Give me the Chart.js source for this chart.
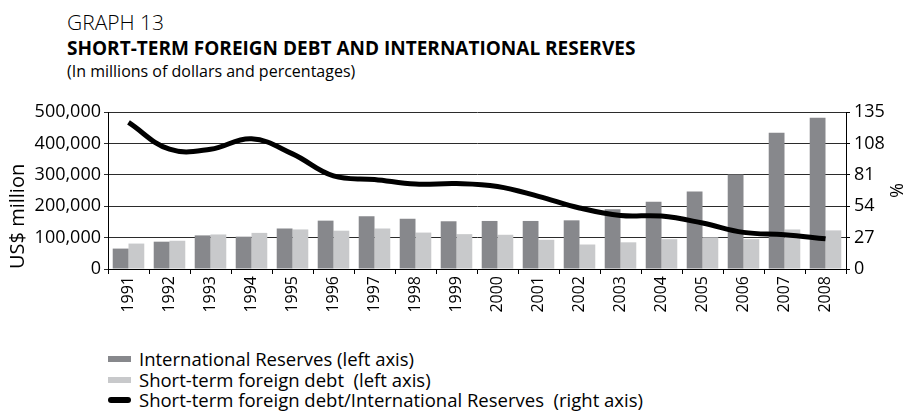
<!DOCTYPE html>
<html>
<head>
<meta charset="utf-8">
<script src="https://cdn.jsdelivr.net/npm/chart.js@4"></script>
<style>
  html, body { margin: 0; padding: 0; background: #fff; }
  body { width: 914px; height: 412px; position: relative; overflow: hidden; font-family: "Open Sans", sans-serif; color: #000; }
  .heading { position: absolute; left: 67px; white-space: nowrap; line-height: 1.2; }
  #graph-no { top: 10px; font-size: 21px; font-weight: 300; }
  #graph-title { top: 37px; font-size: 19px; font-weight: 700; }
  #graph-sub { top: 62px; font-size: 16px; }
  #chart-box { position: absolute; left: 0; top: 96px; width: 914px; height: 234px; }
  #legend { position: absolute; left: 108px; top: 349px; font-size: 18.5px; line-height: 20.5px; }
  #legend div { display: flex; align-items: center; white-space: nowrap; }
  #legend span.sw { display: inline-block; width: 23px; margin-right: 8px; }
</style>
</head>
<body>
<div class="heading" id="graph-no">GRAPH 13</div>
<div class="heading" id="graph-title">SHORT-TERM FOREIGN DEBT AND INTERNATIONAL RESERVES</div>
<div class="heading" id="graph-sub">(In millions of dollars and percentages)</div>
<div id="chart-box"><canvas id="debt-chart"></canvas></div>
<div id="legend"></div>
<script>
// Data
const years = ['1991', '1992', '1993', '1994', '1995', '1996', '1997', '1998', '1999',
               '2000', '2001', '2002', '2003', '2004', '2005', '2006', '2007', '2008'];
const reserves = [65000, 87000, 107000, 103000, 129000, 154000, 168000, 160000, 152000,
                  153000, 153000, 155000, 190000, 214000, 247000, 301000, 434000, 482000];
const shortDebt = [81000, 90000, 110000, 115000, 126000, 122000, 129000, 116000, 111000,
                   109000, 93000, 78000, 85000, 95000, 101000, 95000, 126000, 123000];
const debtRatio = [126, 103, 103, 112, 99, 80, 77, 73, 73.5,
                   71, 62.5, 52.5, 46, 45.5, 39.5, 31.5, 29.5, 26];
const pctTicks = [0, 27, 54, 81, 108, 135];

const fontFamily = '"Open Sans", sans-serif';
const darkGrey = '#87888c';
const lightGrey = '#c8c9cb';

const ctx = document.getElementById('debt-chart').getContext('2d');

new Chart(ctx, {
    type: 'bar',
    data: {
        labels: years,
        datasets: [{
            label: 'International Reserves (left axis)',
            data: reserves,
            backgroundColor: darkGrey,
            yAxisID: 'y',
            order: 2,
            categoryPercentage: 0.77,
            barPercentage: 1
        }, {
            label: 'Short-term foreign debt  (left axis)',
            data: shortDebt,
            backgroundColor: lightGrey,
            yAxisID: 'y',
            order: 2,
            categoryPercentage: 0.77,
            barPercentage: 1
        }, {
            type: 'line',
            label: 'Short-term foreign debt/International Reserves  (right axis)',
            data: debtRatio,
            borderColor: '#000',
            borderWidth: 5,
            pointRadius: 0,
            tension: 0.4,
            yAxisID: 'y1',
            order: 1
        }]
    },
    options: {
        responsive: true,
        maintainAspectRatio: false,
        animation: false,
        layout: { padding: { top: 16, left: 0, right: 0, bottom: 0 } },
        plugins: {
            legend: { display: false },
            tooltip: { enabled: false }
        },
        scales: {
            x: {
                offset: true,
                grid: { offset: true, drawOnChartArea: false, color: '#000', tickLength: 5 },
                border: { color: '#000', width: 1 },
                ticks: {
                    color: '#000',
                    font: { family: fontFamily, size: 16 },
                    maxRotation: 90,
                    minRotation: 90,
                    padding: 2
                },
                afterFit: (scale) => { scale.height = 61; }
            },
            y: {
                position: 'left',
                min: 0,
                max: 500000,
                ticks: {
                    stepSize: 100000,
                    color: '#000',
                    font: { family: fontFamily, size: 18 },
                    padding: 3,
                    callback: (v) => v.toLocaleString('en-US')
                },
                grid: { color: '#2b2b2b', lineWidth: 1, tickLength: 4 },
                border: { color: '#000', width: 1 },
                title: {
                    display: true,
                    text: 'US$ million',
                    align: 'start',
                    color: '#000',
                    font: { family: fontFamily, size: 20 },
                    padding: { top: 6, bottom: 0 }
                },
                afterFit: (scale) => { scale.width = 108; }
            },
            y1: {
                position: 'right',
                min: 0,
                max: 135,
                afterBuildTicks: (scale) => { scale.ticks = pctTicks.map(v => ({ value: v })); },
                ticks: {
                    color: '#000',
                    font: { family: fontFamily, size: 18 },
                    padding: 4
                },
                grid: { drawOnChartArea: false, color: '#000', tickLength: 4 },
                border: { color: '#000', width: 1 },
                title: {
                    display: true,
                    text: '%',
                    color: '#000',
                    font: { family: fontFamily, size: 18 },
                    padding: { top: 8, bottom: 0 }
                },
                afterFit: (scale) => { scale.width = 68; }
            }
        }
    }
});

// Legend built from the same labels and colours
const legendItems = [
    { text: 'International Reserves (left axis)', color: darkGrey, h: 6 },
    { text: 'Short-term foreign debt  (left axis)', color: lightGrey, h: 6 },
    { text: 'Short-term foreign debt/International Reserves  (right axis)', color: '#000', h: 6 }
];
const legend = document.getElementById('legend');
legendItems.forEach(item => {
    const row = document.createElement('div');
    const sw = document.createElement('span');
    sw.className = 'sw';
    sw.style.height = item.h + 'px';
    sw.style.background = item.color;
    if (item.color === '#000') sw.style.borderRadius = '3px';
    row.appendChild(sw);
    const label = document.createElement('span');
    label.textContent = item.text;
    label.style.whiteSpace = 'pre';
    row.appendChild(label);
    legend.appendChild(row);
});
</script>
</body>
</html>
